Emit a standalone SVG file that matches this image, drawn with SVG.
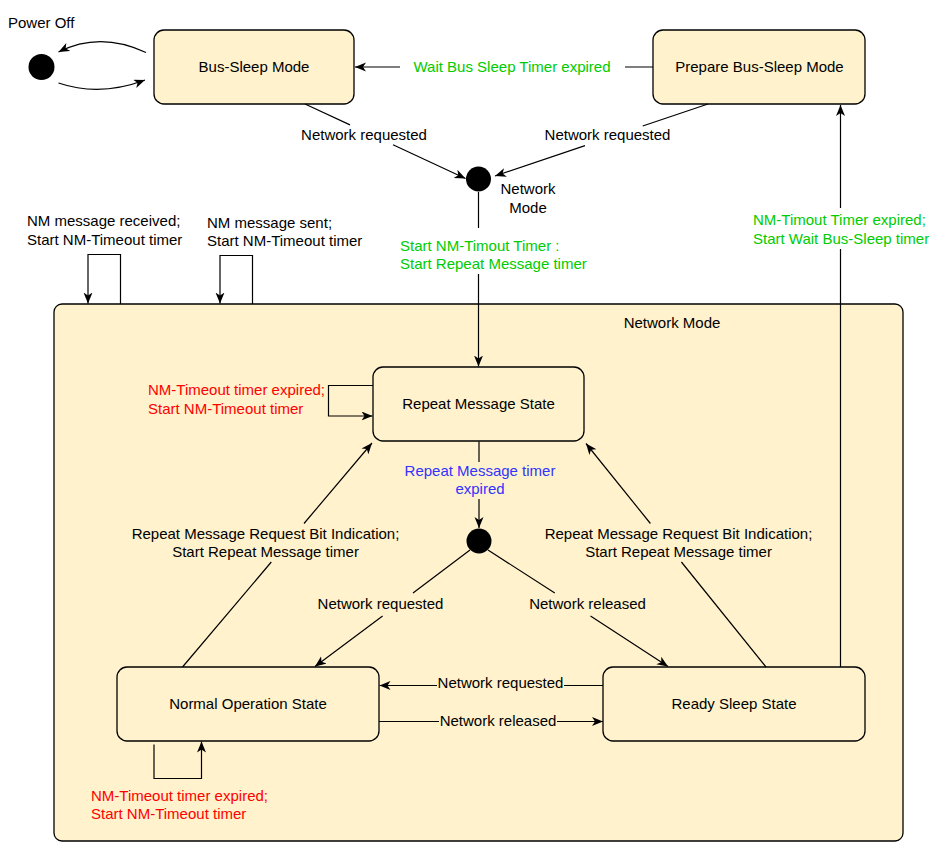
<svg xmlns="http://www.w3.org/2000/svg" width="948" height="860" viewBox="0 0 948 860">
<style>
text{font-family:"Liberation Sans",Arial,sans-serif;font-size:15px;fill:#000}
.c{text-anchor:middle}
.g{fill:#00CC00}
.r{fill:#FF0000}
.b{fill:#3333FF}
.box{fill:#FFF2CC;stroke:#000;stroke-width:1.3}
.dot{fill:#000}
.e{fill:none;stroke:#000;stroke-width:1.2}
.a{marker-end:url(#arr)}
</style>
<defs>
<marker id="arr" markerUnits="userSpaceOnUse" markerWidth="12" markerHeight="10" refX="11" refY="4.5" orient="auto">
<path d="M0,0 L11,4.5 L0,9 L3,4.5 Z" fill="#000"/>
</marker>
</defs>
<rect width="948" height="860" fill="#fff"/>

<g id="network-mode">
<rect class="box" x="54" y="304" width="849" height="537" rx="8"/>
<text class="c" x="672" y="328">Network Mode</text>
</g>

<g id="power-off">
<circle class="dot" cx="41.5" cy="67" r="13"/>
<text x="8" y="28">Power Off</text>
</g>

<g id="bus-sleep">
<rect class="box" x="154" y="30" width="200" height="74" rx="10"/>
<text class="c" x="254" y="72">Bus-Sleep Mode</text>
</g>

<g id="prepare-bus-sleep">
<rect class="box" x="653" y="30" width="212" height="74" rx="10"/>
<text class="c" x="759.5" y="72">Prepare Bus-Sleep Mode</text>
</g>

<g id="network-mode-entry">
<circle class="dot" cx="478.5" cy="179" r="12.5"/>
<text class="c" x="528" y="194">Network</text>
<text class="c" x="528" y="212.5">Mode</text>
</g>

<g id="repeat-message">
<rect class="box" x="373" y="367" width="211" height="74" rx="10"/>
<text class="c" x="478.5" y="409">Repeat Message State</text>
</g>

<g id="choice">
<circle class="dot" cx="479" cy="541" r="12.5"/>
</g>

<g id="normal-operation">
<rect class="box" x="117" y="667" width="262" height="74" rx="10"/>
<text class="c" x="248" y="708.5">Normal Operation State</text>
</g>

<g id="ready-sleep">
<rect class="box" x="603" y="667" width="262" height="74" rx="10"/>
<text class="c" x="734" y="708.5">Ready Sleep State</text>
</g>

<g id="connectors">
<path class="e a" d="M146,52.5 Q100,31 58.5,52"/>
<path class="e a" d="M58.5,83 Q100,97 145,80"/>

<path class="e a" d="M653,67 H625 M400,67 H355"/>
<text class="c g" x="512" y="72">Wait Bus Sleep Timer expired</text>

<path class="e a" d="M305,104 L350,124.9 M393,144.8 L465.5,178.5"/>
<text class="c" x="364" y="139.5">Network requested</text>

<path class="e a" d="M708,104 L642.7,126 M585,145.6 L495,176"/>
<text class="c" x="607.5" y="140">Network requested</text>

<path class="e a" d="M478.5,192 V228 M478.5,274 V366.5"/>
<text class="g" x="400" y="250.5">Start NM-Timout Timer :</text>
<text class="g" x="400" y="269">Start Repeat Message timer</text>

<path class="e a" d="M840.5,667 V249 M840.5,208 V105"/>
<text class="g" x="753" y="225">NM-Timout Timer expired;</text>
<text class="g" x="753" y="244">Start Wait Bus-Sleep timer</text>

<path class="e a" d="M120.5,304 V254.5 H88 V303.5"/>
<text x="27" y="226">NM message received;</text>
<text x="27" y="244.5">Start NM-Timeout timer</text>

<path class="e a" d="M252.5,304 V255.5 H220 V303.5"/>
<text x="207" y="228">NM message sent;</text>
<text x="207" y="246">Start NM-Timeout timer</text>

<path class="e a" d="M373,385.5 H328.5 V416 H372.5"/>
<text class="r" x="148" y="395">NM-Timeout timer expired;</text>
<text class="r" x="148" y="414">Start NM-Timeout timer</text>

<path class="e a" d="M479,441.5 V462 M479,499 V528"/>
<text class="c b" x="480" y="475.5">Repeat Message timer</text>
<text class="c b" x="480" y="494">expired</text>

<path class="e a" d="M470,550 L413,593 M382.6,616 L315,666.5"/>
<text class="c" x="380.5" y="609">Network requested</text>

<path class="e a" d="M488,550 L554.8,593 M590.5,616 L668,666.5"/>
<text class="c" x="587.5" y="609">Network released</text>

<path class="e a" d="M182.5,667 L271.3,562 M304,523.5 L372,443"/>
<text class="c" x="265.5" y="539">Repeat Message Request Bit Indication;</text>
<text class="c" x="265.5" y="557">Start Repeat Message timer</text>

<path class="e a" d="M766,667 L681.4,562 M650.4,523.5 L586,443.5"/>
<text class="c" x="678.5" y="539">Repeat Message Request Bit Indication;</text>
<text class="c" x="678.5" y="557">Start Repeat Message timer</text>

<path class="e a" d="M603,685.5 H564 M437,685.5 H379.5"/>
<text class="c" x="500.5" y="688">Network requested</text>

<path class="e a" d="M379,721.5 H439 M557,721.5 H603"/>
<text class="c" x="498" y="726">Network released</text>

<path class="e a" d="M154,744.5 V778.5 H201.5 V741.5"/>
<text class="r" x="91" y="800.5">NM-Timeout timer expired;</text>
<text class="r" x="91" y="819">Start NM-Timeout timer</text>
</g>
</svg>
